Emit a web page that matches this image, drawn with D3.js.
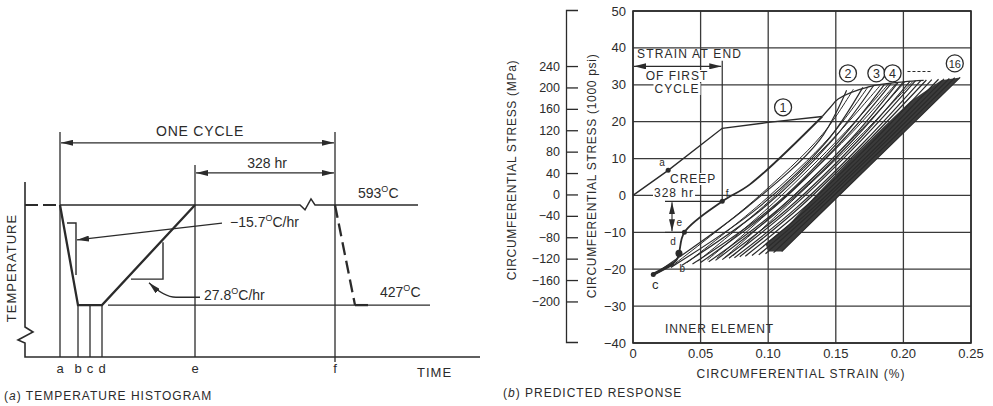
<!DOCTYPE html>
<html>
<head>
<meta charset="utf-8">
<script src="https://cdn.jsdelivr.net/npm/d3@7"></script>
<style>
body { margin: 0; background: #fff; }
svg { font-family: "Liberation Sans", Arial, sans-serif; }
text { fill: #2b2b2b; }
</style>
</head>
<body>
<svg id="fig" width="993" height="406"></svg>
<script>
// ---- (a) temperature histogram data ----
var timeLabels = ["a", "b", "c", "d", "e", "f"];
var timeValues = [0, 18, 30, 42, 135, 275];        // schematic time units
var guideTops = [714, 427, 427, 427, 659, 714];     // temperature where each guide stops
var tempLevels = [593, 427];
var preCycle = [[-35, 593], [0, 593]];
var tempHistory = [[0, 593], [18, 427], [42, 427], [135, 593]];
var holdLine = [[0, 593], [240, 593], [245, 585], [251, 603], [255, 593], [358, 593]];
var lowLine = [[48, 427], [370, 427]];
var nextDrop = [[275, 593], [295, 427]];
var nextHold = [[295, 427], [308, 427]];
var coolSlope = [[7, 563], [16, 563], [16, 477]];
var heatSlope = [[71, 470], [103, 470], [103, 531]];
var rateLabels = ["\u221215.7", "27.8"];

// ---- (b) predicted response data ----
var strainTicks = [0, 0.05, 0.10, 0.15, 0.20, 0.25];
var strainLabels = ["0", "0.05", "0.10", "0.15", "0.20", "0.25"];
var stressTicks = [-40, -30, -20, -10, 0, 10, 20, 30, 40, 50];
var mpaTicks = [240, 200, 160, 120, 80, 40, 0, -40, -80, -120, -160, -200];

var firstLoading = [[0, 0], [0.026, 6.8], [0.066, 18.2], [0.10, 19.8], [0.14, 21.4]];
var firstCycle = [[0.015, -21.4], [0.032, -17.6], [0.034, -15.7], [0.038, -10], [0.066, -1.6], [0.0865, 3.0], [0.14, 21.4]];
var firstCooling = [[0.015, -21.4], [0.030, -18.5]];
var peakEnvelope = [[0.14, 21.4], [0.146, 23.9], [0.152, 26.2], [0.175, 29.5], [0.20, 30.8], [0.215, 31.2]];

// heating / cooling branches of cycles 2..16 (strain %, stress ksi)
var cycleLines = [
  [[0.018, -20.8], [0.085, -3.0], [0.138, 15.0], [0.158, 28.5]],
  [[0.028, -19.5], [0.092, -3.5], [0.143, 14.5], [0.170, 29.3]],
  [[0.036, -19.0], [0.097, -3.2], [0.148, 15.2], [0.178, 29.8]],
  [[0.044, -18.6], [0.101, -3.8], [0.152, 14.6], [0.186, 30.1]],
  [[0.050, -18.2], [0.105, -3.0], [0.156, 15.3], [0.191, 30.4]],
  [[0.056, -18.0], [0.108, -3.6], [0.160, 14.8], [0.196, 30.6]],
  [[0.061, -17.6], [0.112, -2.9], [0.163, 15.1], [0.200, 30.8]],
  [[0.066, -17.4], [0.115, -3.4], [0.166, 14.7], [0.205, 31.0]],
  [[0.071, -17.0], [0.118, -3.1], [0.169, 15.0], [0.209, 31.1]],
  [[0.075, -16.9], [0.121, -3.3], [0.172, 14.9], [0.213, 31.2]],
  [[0.079, -16.6], [0.124, -3.0], [0.175, 15.2], [0.217, 31.3]],
  [[0.083, -16.5], [0.127, -3.2], [0.178, 14.8], [0.221, 31.4]],
  [[0.088, -16.3], [0.131, -3.0], [0.182, 15.0], [0.226, 31.5]],
  [[0.093, -16.1], [0.134, -3.1], [0.185, 14.9], [0.230, 31.6]],
  [[0.098, -15.8], [0.137, -3.0], [0.188, 15.0], [0.234, 31.7]],
  [[0.104, -15.5], [0.140, -3.0], [0.191, 15.0], [0.238, 31.9]],
  [[0.110, -15.2], [0.144, -3.0], [0.1945, 15.0], [0.242, 32.0]]
];
var returnLines = [
  [[0.030, -18.8], [0.089, -1.5], [0.140, 16.5], [0.163, 28.8]],
  [[0.040, -18.2], [0.095, -2.0], [0.146, 16.0], [0.174, 29.5]],
  [[0.048, -17.8], [0.100, -1.8], [0.150, 16.2], [0.183, 29.9]],
  [[0.055, -17.5], [0.104, -2.0], [0.155, 16.4], [0.189, 30.2]],
  [[0.062, -17.0], [0.109, -1.6], [0.160, 16.3], [0.195, 30.5]],
  [[0.068, -16.8], [0.113, -2.0], [0.164, 16.0], [0.201, 30.7]],
  [[0.074, -16.4], [0.117, -1.7], [0.168, 16.1], [0.207, 30.9]]
];
var darkBand = [[0.100, -15.2], [0.110, -15.2], [0.242, 32.0], [0.228, 31.2], [0.205, 25.5],
                [0.185, 18.5], [0.160, 9.5], [0.135, 0], [0.115, -8], [0.098, -13]];

var pointNames = ["a", "b", "c", "d", "e", "f"];
var pointValues = [[0.026, 6.8], [0.032, -17.6], [0.015, -21.4], [0.034, -15.7], [0.038, -10], [0.066, -1.6]];
var cycleNames = ["1", "2", "3", "4", "16"];
var cyclePeaks = [[0.111, 23.9], [0.159, 33.1], [0.180, 33.1], [0.192, 33.1], [0.238, 35.8]];
var endStrain = 0.066;
var creepDrop = [-1.6, -10];

var ink = "#2b2b2b";
var svg = d3.select("#fig");

svg.append("defs").append("marker")
    .attr("id", "ah")
    .attr("viewBox", "0 0 12 6")
    .attr("refX", 12).attr("refY", 3)
    .attr("markerWidth", 12).attr("markerHeight", 6)
    .attr("markerUnits", "userSpaceOnUse")
    .attr("orient", "auto-start-reverse")
  .append("path")
    .attr("d", "M0,0L12,3L0,6z")
    .attr("fill", ink);

// ================= (a) =================
var tS = d3.scaleLinear().domain([-35, 420]).range([25, 480]);
var TS = d3.scaleLinear().domain([341, 631]).range([357, 182]);
var lineT = d3.line().x(function(d) { return tS(d[0]); }).y(function(d) { return TS(d[1]); });
var ga = svg.append("g");

// axes with break
var y0 = TS(341);
ga.append("path")
    .attr("d", "M25," + TS(631) + "V" + (y0 - 30) + "l8,5l-15,8l7,3V" + y0 + "H480")
    .attr("fill", "none").attr("stroke", ink).attr("stroke-width", 1.6);

// guides at a..f
ga.selectAll(".guide")
    .data(timeValues)
  .enter().append("line")
    .attr("class", "guide")
    .attr("x1", function(d) { return tS(d); })
    .attr("x2", function(d) { return tS(d); })
    .attr("y1", y0)
    .attr("y2", function(d, i) { return TS(guideTops[i]); })
    .attr("stroke", ink).attr("stroke-width", 1.3);
ga.append("line")
    .attr("x1", tS(275)).attr("x2", tS(275)).attr("y1", y0).attr("y2", y0 + 5)
    .attr("stroke", ink).attr("stroke-width", 1.3);

ga.selectAll(".tlab")
    .data(timeLabels)
  .enter().append("text")
    .attr("x", function(d, i) { return tS(timeValues[i]); })
    .attr("y", 373)
    .attr("text-anchor", "middle")
    .style("font-size", "13px")
    .text(function(d) { return d; });

ga.append("path").attr("d", lineT(holdLine))
    .attr("fill", "none").attr("stroke", ink).attr("stroke-width", 1.5);
ga.append("path").attr("d", lineT(lowLine))
    .attr("fill", "none").attr("stroke", ink).attr("stroke-width", 1.3);
ga.append("path").attr("d", lineT(preCycle))
    .attr("fill", "none").attr("stroke", ink).attr("stroke-width", 2)
    .attr("stroke-dasharray", "13,5");
ga.append("path").attr("d", lineT(tempHistory))
    .attr("fill", "none").attr("stroke", ink).attr("stroke-width", 2.3);
ga.append("path").attr("d", lineT(nextDrop))
    .attr("fill", "none").attr("stroke", ink).attr("stroke-width", 2.3)
    .attr("stroke-dasharray", "13,6");
ga.append("path").attr("d", lineT(nextHold))
    .attr("fill", "none").attr("stroke", ink).attr("stroke-width", 2.3);
ga.append("path").attr("d", lineT(coolSlope))
    .attr("fill", "none").attr("stroke", ink).attr("stroke-width", 1.4);
ga.append("path").attr("d", lineT(heatSlope))
    .attr("fill", "none").attr("stroke", ink).attr("stroke-width", 1.4);

// dimension arrows
ga.append("line")
    .attr("x1", tS(timeValues[0]) + 1).attr("x2", tS(timeValues[5]) - 1)
    .attr("y1", TS(696)).attr("y2", TS(696))
    .attr("stroke", ink).attr("stroke-width", 1.3)
    .attr("marker-start", "url(#ah)").attr("marker-end", "url(#ah)");
ga.append("line")
    .attr("x1", tS(timeValues[4]) + 1).attr("x2", tS(timeValues[5]) - 1)
    .attr("y1", TS(646)).attr("y2", TS(646))
    .attr("stroke", ink).attr("stroke-width", 1.3)
    .attr("marker-start", "url(#ah)").attr("marker-end", "url(#ah)");
ga.append("text").attr("x", 200).attr("y", 136).attr("text-anchor", "middle")
    .style("font-size", "14px").style("letter-spacing", "0.8px").text("ONE CYCLE");
ga.append("text").attr("x", 267).attr("y", 168).attr("text-anchor", "middle")
    .style("font-size", "14px").text("328 hr");

// rate leaders
ga.append("line")
    .attr("x1", tS(162)).attr("y1", TS(563)).attr("x2", tS(17)).attr("y2", TS(535))
    .attr("stroke", ink).attr("stroke-width", 1.3).attr("marker-end", "url(#ah)");
ga.append("path")
    .attr("d", "M" + tS(140) + "," + TS(440) + "L" + tS(116) + "," + TS(440) +
          "Q" + tS(104) + "," + TS(440) + " " + tS(89) + "," + TS(464))
    .attr("fill", "none").attr("stroke", ink).attr("stroke-width", 1.3).attr("marker-end", "url(#ah)");

function degText(g, x, y, num, tail) {
  var t = g.append("text").attr("x", x).attr("y", y).style("font-size", "14px");
  t.append("tspan").text(num);
  t.append("tspan").attr("dy", -6).style("font-size", "9px").text("O");
  t.append("tspan").attr("dy", 6).text(tail);
  return t;
}
degText(ga, 230, 227, rateLabels[0], "C/hr");
degText(ga, 204, 300, rateLabels[1], "C/hr");
degText(ga, 358, 198, String(tempLevels[0]), "C");
degText(ga, 380, 297, String(tempLevels[1]), "C");

ga.append("text").attr("transform", "translate(16,268) rotate(-90)")
    .attr("text-anchor", "middle").style("font-size", "13px").style("letter-spacing", "1px")
    .text("TEMPERATURE");
ga.append("text").attr("x", 417).attr("y", 377)
    .style("font-size", "13px").style("letter-spacing", "1px").text("TIME");
var capA = ga.append("text").attr("x", 4).attr("y", 400)
    .style("font-size", "12px").style("letter-spacing", "1px");
capA.append("tspan").text("(");
capA.append("tspan").style("font-style", "italic").text("a");
capA.append("tspan").text(")  TEMPERATURE HISTOGRAM");

// ================= (b) =================
var xS = d3.scaleLinear().domain([0, 0.25]).range([633, 971]);
var yS = d3.scaleLinear().domain([-40, 50]).range([343, 11]);
var mS = d3.scaleLinear().domain([-40 * 6.895, 50 * 6.895]).range([343, 11]);
var lineS = d3.line().x(function(d) { return xS(d[0]); }).y(function(d) { return yS(d[1]); });
var curveS = d3.line().x(function(d) { return xS(d[0]); }).y(function(d) { return yS(d[1]); })
    .curve(d3.curveCatmullRom.alpha(0.5));
var gb = svg.append("g");

// grid
gb.selectAll(".vg").data(strainTicks).enter().append("line")
    .attr("x1", function(d) { return xS(d); }).attr("x2", function(d) { return xS(d); })
    .attr("y1", yS(-40)).attr("y2", yS(50))
    .attr("stroke", "#3a3a3a").attr("stroke-width", 1.3);
gb.selectAll(".hg").data(stressTicks).enter().append("line")
    .attr("x1", xS(0)).attr("x2", xS(0.25))
    .attr("y1", function(d) { return yS(d); }).attr("y2", function(d) { return yS(d); })
    .attr("stroke", "#3a3a3a").attr("stroke-width", 1.3);

// stress (ksi) labels
gb.selectAll(".yl").data(stressTicks).enter().append("text")
    .attr("x", 626).attr("y", function(d) { return yS(d) + 4.5; })
    .attr("text-anchor", "end").style("font-size", "13px")
    .text(function(d) { return d < 0 ? "\u2212" + (-d) : d; });
gb.selectAll(".xl").data(strainTicks).enter().append("text")
    .attr("x", function(d) { return xS(d); }).attr("y", 358)
    .attr("text-anchor", "middle").style("font-size", "13px")
    .text(function(d, i) { return strainLabels[i]; });

// MPa axis
var mAxis = d3.axisRight(mS).tickValues(mpaTicks).tickSize(12).tickSizeOuter(12)
    .tickFormat(function(d) { return d < 0 ? "\u2212" + (-d) : d; });
var mg = gb.append("g").attr("transform", "translate(566,-1)").call(mAxis);
mg.selectAll("path, line").attr("stroke", ink).attr("stroke-width", 1.3);
mg.selectAll("text").attr("x", -6).attr("text-anchor", "end")
    .style("font-size", "12.5px").style("font-family", "Liberation Sans, Arial, sans-serif")
    .attr("fill", ink);

gb.append("text").attr("transform", "translate(516,170) rotate(-90)")
    .attr("text-anchor", "middle").style("font-size", "12px").style("letter-spacing", "0.7px")
    .text("CIRCUMFERENTIAL STRESS (MPa)");
gb.append("text").attr("transform", "translate(596,176) rotate(-90)")
    .attr("text-anchor", "middle").style("font-size", "12px").style("letter-spacing", "0.7px")
    .text("CIRCUMFERENTIAL STRESS (1000 psi)");
gb.append("text").attr("x", 801).attr("y", 378).attr("text-anchor", "middle")
    .style("font-size", "12px").style("letter-spacing", "1px")
    .text("CIRCUMFERENTIAL STRAIN (%)");
var capB = gb.append("text").attr("x", 503).attr("y", 397)
    .style("font-size", "12px").style("letter-spacing", "1px");
capB.append("tspan").text("(");
capB.append("tspan").style("font-style", "italic").text("b");
capB.append("tspan").text(")  PREDICTED RESPONSE");

// response curves
gb.append("path").attr("d", lineS(darkBand)).attr("fill", "#3b3b3b").attr("stroke", "none");
gb.selectAll(".ret").data(returnLines).enter().append("path")
    .attr("d", curveS).attr("fill", "none").attr("stroke", ink).attr("stroke-width", 1);
gb.selectAll(".cyc").data(cycleLines).enter().append("path")
    .attr("d", curveS).attr("fill", "none").attr("stroke", ink).attr("stroke-width", 1.2);
gb.append("path").attr("d", lineS(firstLoading))
    .attr("fill", "none").attr("stroke", ink).attr("stroke-width", 1.4);
gb.append("path").attr("d", curveS(firstCycle))
    .attr("fill", "none").attr("stroke", ink).attr("stroke-width", 1.8);
gb.append("path").attr("d", lineS(firstCooling))
    .attr("fill", "none").attr("stroke", ink).attr("stroke-width", 3);
gb.append("path").attr("d", curveS(peakEnvelope))
    .attr("fill", "none").attr("stroke", ink).attr("stroke-width", 1.3);

// labelled points
gb.selectAll(".pt").data(pointValues).enter().append("circle")
    .filter(function(d, i) { return pointNames[i] != "b"; })
    .attr("cx", function(d) { return xS(d[0]); })
    .attr("cy", function(d) { return yS(d[1]); })
    .attr("r", function(d, i) { return i == 2 ? 3.5 : 2.5; })
    .attr("fill", ink);
var ptOff = [[-6, -4], [6, 12], [2, 15], [-6, -8], [-5, -6], [5, -4]];
gb.selectAll(".ptl").data(pointValues).enter().append("text")
    .attr("x", function(d, i) { return xS(d[0]) + ptOff[i][0]; })
    .attr("y", function(d, i) { return yS(d[1]) + ptOff[i][1]; })
    .attr("text-anchor", "middle")
    .style("font-size", function(d, i) { return i == 2 ? "13px" : "10px"; })
    .text(function(d, i) { return pointNames[i]; });

// creep annotation
gb.append("line").attr("x1", 665).attr("x2", xS(endStrain))
    .attr("y1", yS(creepDrop[0])).attr("y2", yS(creepDrop[0]))
    .attr("stroke", ink).attr("stroke-width", 1.1);
gb.append("line").attr("x1", 665).attr("x2", xS(0.038))
    .attr("y1", yS(creepDrop[1])).attr("y2", yS(creepDrop[1]))
    .attr("stroke", ink).attr("stroke-width", 1.1);
gb.append("line").attr("x1", 672).attr("x2", 672)
    .attr("y1", yS(creepDrop[0]) + 1).attr("y2", yS(creepDrop[1]) - 1)
    .attr("stroke", ink).attr("stroke-width", 1.1)
    .attr("marker-start", "url(#ah)").attr("marker-end", "url(#ah)");

function boxText(g, x, y, str, size, anchor) {
  var t = g.append("text").attr("x", x).attr("y", y).attr("text-anchor", anchor || "start")
      .style("font-size", size + "px").style("letter-spacing", "1px").text(str);
  var b = t.node().getBBox();
  g.insert("rect", function() { return t.node(); })
      .attr("x", b.x - 1).attr("y", b.y + 1).attr("width", b.width + 2).attr("height", b.height - 2)
      .attr("fill", "#fff");
  return t;
}
boxText(gb, 670, 183, "CREEP", 12);
boxText(gb, 654, 197, "328 hr", 12);
boxText(gb, 677, 80, "OF FIRST", 12, "middle");
boxText(gb, 677, 93, "CYCLE", 12, "middle");
gb.append("text").attr("x", 637).attr("y", 58)
    .style("font-size", "12px").style("letter-spacing", "1.2px").text("STRAIN AT END");
gb.append("line").attr("x1", xS(0) + 1).attr("x2", xS(endStrain) - 1)
    .attr("y1", yS(35)).attr("y2", yS(35))
    .attr("stroke", ink).attr("stroke-width", 1.2)
    .attr("marker-start", "url(#ah)").attr("marker-end", "url(#ah)");
gb.append("line").attr("x1", xS(endStrain)).attr("x2", xS(endStrain))
    .attr("y1", yS(36.5)).attr("y2", yS(creepDrop[0]))
    .attr("stroke", ink).attr("stroke-width", 1.2);
gb.append("text").attr("x", 665).attr("y", 333)
    .style("font-size", "12px").style("letter-spacing", "0.9px").text("INNER ELEMENT");

// cycle numbers
var cg = gb.selectAll(".cn").data(cyclePeaks).enter().append("g")
    .attr("transform", function(d) { return "translate(" + xS(d[0]) + "," + yS(d[1]) + ")"; });
cg.append("circle").attr("r", 8.5).attr("fill", "#fff").attr("stroke", ink).attr("stroke-width", 1.3);
cg.append("text").attr("y", 4.5).attr("text-anchor", "middle")
    .style("font-size", function(d, i) { return cycleNames[i].length > 1 ? "11px" : "12.5px"; })
    .text(function(d, i) { return cycleNames[i]; });
gb.append("line").attr("x1", xS(0.203)).attr("x2", xS(0.221))
    .attr("y1", yS(33.6)).attr("y2", yS(33.6))
    .attr("stroke", ink).attr("stroke-width", 1.2).attr("stroke-dasharray", "3,2");

// frame
gb.append("rect").attr("x", xS(0)).attr("y", yS(50))
    .attr("width", xS(0.25) - xS(0)).attr("height", yS(-40) - yS(50))
    .attr("fill", "none").attr("stroke", ink).attr("stroke-width", 1.6);
</script>
</body>
</html>
